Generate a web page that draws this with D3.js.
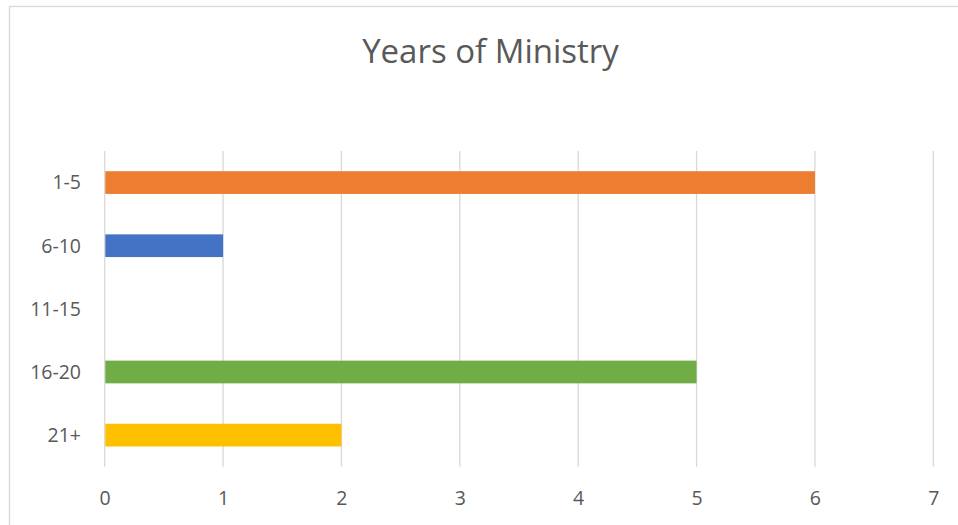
<!DOCTYPE html>
<html>
<head>
<meta charset="utf-8">
<script src="https://cdn.jsdelivr.net/npm/d3@7"></script>
<style>
  html, body { margin: 0; padding: 0; background: #fff; }
  svg { display: block; }
  text { font-family: "Open Sans", "Noto Sans", sans-serif; fill: #595959; }
</style>
</head>
<body>
<svg id="chart" width="958" height="525"></svg>
<script>
// Respondents by years in ministry
const categories = ["1-5", "6-10", "11-15", "16-20", "21+"];
const counts = [6, 1, 0, 5, 2];
const barColors = ["#ED7D31", "#4472C4", "#A5A5A5", "#70AD47", "#FFC000"];
const xTicks = [0, 1, 2, 3, 4, 5, 6, 7];
const title = "Years of Ministry";

const svg = d3.select("#chart");
const W = 958, H = 525;

// chart frame
svg.append("rect")
  .attr("x", 9.5).attr("y", 6.5)
  .attr("width", W + 10).attr("height", H + 10)
  .attr("fill", "#fff").attr("stroke", "#d9d9d9").attr("stroke-width", 1.3);

const plot = { left: 104.7, right: 933.3, top: 151, bottom: 466.7 };

const x = d3.scaleLinear().domain([0, 7]).range([plot.left, plot.right]);
const y = d3.scaleBand().domain(categories)
  .range([plot.top, plot.bottom])
  .paddingInner(0.64).paddingOuter(0.32);

// vertical gridlines
svg.append("g")
  .selectAll("line").data(xTicks).join("line")
  .attr("x1", d => x(d)).attr("x2", d => x(d))
  .attr("y1", plot.top).attr("y2", plot.bottom)
  .attr("stroke", "#d9d9d9").attr("stroke-width", 1.3);

// bars
svg.append("g")
  .selectAll("rect").data(categories).join("rect")
  .attr("x", x(0) + 0.6)
  .attr("y", d => y(d))
  .attr("width", (d, i) => Math.max(0, x(counts[i]) - x(0) - 0.6))
  .attr("height", y.bandwidth())
  .attr("fill", (d, i) => barColors[i]);

// x axis labels
const xAxis = d3.axisBottom(x).tickValues(xTicks).tickSize(0).tickPadding(0).tickFormat(d3.format("d"));
const gx = svg.append("g").attr("transform", `translate(0,${plot.bottom})`).call(xAxis);
gx.select(".domain").remove();
gx.selectAll("text")
  .attr("dy", null).attr("y", 38.5)
  .style("font-size", "19.5px").style("fill", "#595959")
  .style("font-family", "'Open Sans', sans-serif");

// y axis labels
const yAxis = d3.axisLeft(y).tickSize(0).tickPadding(0);
const gy = svg.append("g").attr("transform", `translate(81,0)`).call(yAxis);
gy.select(".domain").remove();
gy.selectAll("text")
  .attr("dy", "0.35em")
  .style("font-size", "19.5px").style("fill", "#595959")
  .style("font-family", "'Open Sans', sans-serif");

// title
svg.append("text")
  .attr("x", 490.5).attr("y", 63)
  .attr("text-anchor", "middle")
  .style("font-size", "33px")
  .text(title);
</script>
</body>
</html>
